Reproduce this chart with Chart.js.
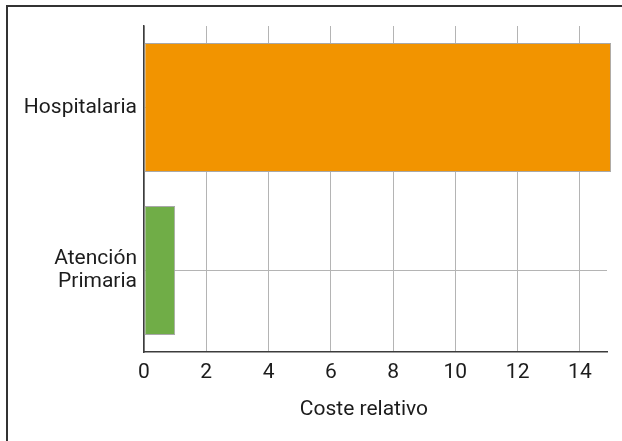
<!DOCTYPE html>
<html>
<head>
<meta charset="utf-8">
<script src="https://cdn.jsdelivr.net/npm/chart.js@4"></script>
<style>
  html, body { margin: 0; padding: 0; background: #fff; overflow: hidden; }
  #wrap { position: relative; width: 622px; height: 441px; }
  #frame {
    position: absolute; left: 6px; top: 5px; width: 700px; height: 500px;
    border-left: 2px solid #333; border-top: 2px solid #333; pointer-events: none;
  }
</style>
</head>
<body>
<div id="wrap">
  <canvas id="c" width="622" height="441"></canvas>
  <div id="frame"></div>
</div>
<script>
// Relative cost per care level
const categories = ['Hospitalaria', ['Atención', 'Primaria']];
const costeRelativo = [15, 1];
const barColors = ['#F29400', '#70AD47'];
const xTicks = [0, 2, 4, 6, 8, 10, 12, 14];
const axisTitle = 'Coste relativo';

const FONT = 'Roboto, "Liberation Sans", sans-serif';
const TEXT = '#1c1c1c';

// Axis title centred under the labelled tick range
const titlePlugin = {
  id: 'axisTitleText',
  afterDraw(chart) {
    const x = chart.scales.x;
    const ctx = chart.ctx;
    const cx = (x.getPixelForValue(xTicks[0]) + x.getPixelForValue(xTicks[xTicks.length - 1])) / 2 + 2;
    ctx.save();
    ctx.font = '21px ' + FONT;
    ctx.fillStyle = TEXT;
    ctx.textAlign = 'center';
    ctx.textBaseline = 'middle';
    ctx.fillText(axisTitle, cx, chart.chartArea.bottom + 58);
    ctx.restore();
  }
};

new Chart(document.getElementById('c'), {
  type: 'bar',
  data: {
    labels: categories,
    datasets: [{
      data: costeRelativo,
      backgroundColor: barColors,
      borderColor: '#a8a8a8',
      borderWidth: 1,
      borderSkipped: false,
      barPercentage: 0.79,
      categoryPercentage: 1.0,
      clip: false
    }]
  },
  options: {
    indexAxis: 'y',
    responsive: false,
    animation: false,
    layout: { padding: { left: 0, top: 26, right: 15, bottom: 0 } },
    plugins: { legend: { display: false }, tooltip: { enabled: false } },
    scales: {
      x: {
        type: 'linear',
        min: 0,
        max: 14.87,
        z: 1,
        afterBuildTicks: s => { s.ticks = xTicks.map(v => ({ value: v })); },
        afterFit: s => { s.height = 89; s.paddingLeft = 0; s.paddingRight = 0; },
        ticks: {
          font: { family: FONT, size: 21 },
          color: TEXT,
          padding: 8,
          includeBounds: false
        },
        grid: { color: '#b4b4b4', lineWidth: 1, drawTicks: false },
        border: { color: '#3c3c3c', width: 1.5 }
      },
      y: {
        z: 1,
        afterFit: s => { s.width = 144; s.paddingTop = 0; s.paddingBottom = 0; },
        ticks: {
          font: { family: FONT, size: 21, lineHeight: 1.1 },
          color: TEXT,
          padding: 7
        },
        grid: { color: '#b4b4b4', lineWidth: 1, drawTicks: false, offset: false },
        border: { color: '#3c3c3c', width: 1.5 }
      }
    }
  },
  plugins: [titlePlugin]
});
</script>
</body>
</html>
